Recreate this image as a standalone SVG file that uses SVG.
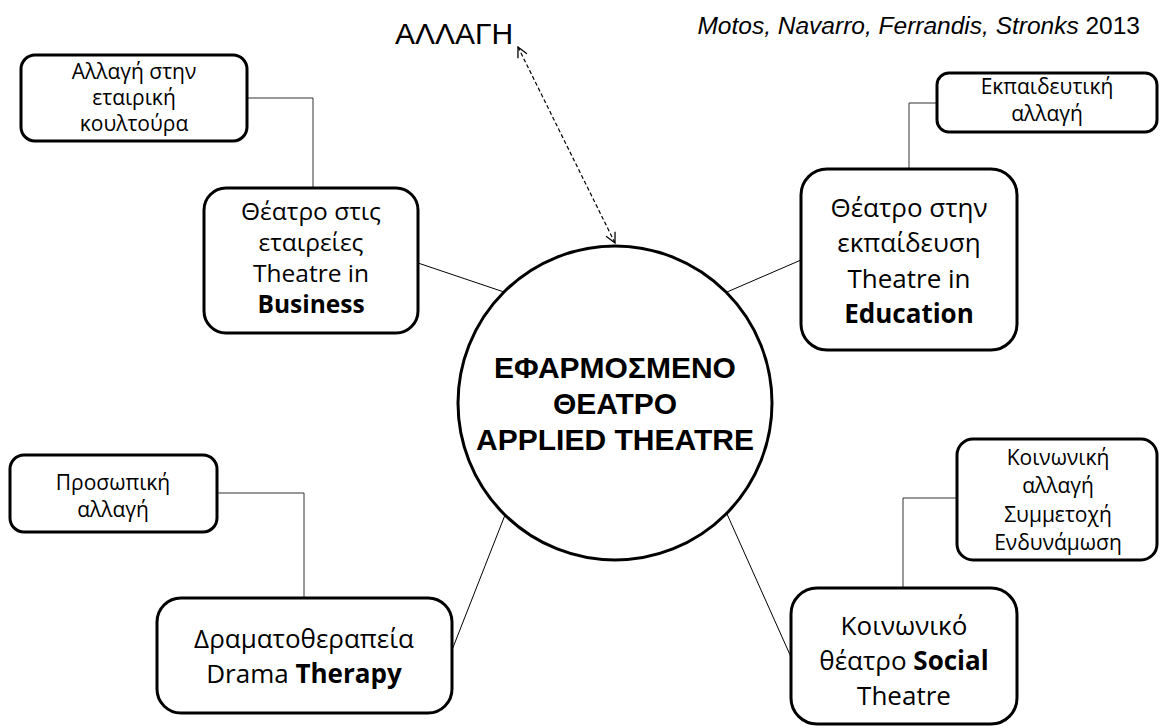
<svg xmlns="http://www.w3.org/2000/svg" width="1160" height="728" viewBox="0 0 1160 728">
<defs>
<style>
.box{fill:#fff;stroke:#000;stroke-width:3}
.t{font-family:"Open Sans","Noto Sans",sans-serif;fill:#000;text-anchor:middle}
.big{font-size:26px}
.mid{font-size:24.5px}
.sm{font-size:21px}
.b{font-weight:bold}
.ctr{font-family:"Liberation Sans",Arial,sans-serif;font-size:30px;font-weight:bold;text-anchor:middle}
.conn{fill:none;stroke:#333;stroke-width:1}
.spoke{fill:none;stroke:#000;stroke-width:1}
</style>
<marker id="ah" viewBox="0 0 12 12" refX="11" refY="6" markerWidth="12" markerHeight="12" markerUnits="userSpaceOnUse" orient="auto-start-reverse">
<path d="M1,1 L11,6 L1,11" fill="none" stroke="#000" stroke-width="1.3"/>
</marker>
</defs>
<rect width="1160" height="728" fill="#fff"/>

<g id="connectors">
<polyline class="conn" points="247,98 313,98 313,188"/>
<polyline class="conn" points="937,103 909,103 909,169"/>
<polyline class="conn" points="217,493 304,493 304,598"/>
<polyline class="conn" points="957,498 903,498 903,588"/>
<line class="spoke" x1="418" y1="263" x2="504" y2="292"/>
<line class="spoke" x1="801" y1="260" x2="727" y2="292"/>
<line class="spoke" x1="452" y1="650" x2="505" y2="515"/>
<line class="spoke" x1="791" y1="657" x2="727" y2="514"/>
<line x1="518" y1="47" x2="615" y2="243" stroke="#000" stroke-width="1.2" stroke-dasharray="4,2.5" marker-start="url(#ah)" marker-end="url(#ah)"/>
</g>

<g id="title">
<text x="395" y="44" font-family="Liberation Sans,Arial,sans-serif" font-size="30">ΑΛΛΑΓΗ</text>
<text x="1140" y="34" font-family="Liberation Sans,Arial,sans-serif" font-size="24.5" text-anchor="end"><tspan font-style="italic">Motos, Navarro, Ferrandis, Stronks</tspan> 2013</text>
</g>

<g id="center">
<circle cx="615" cy="403" r="157" fill="#fff" stroke="#000" stroke-width="3"/>
<text class="ctr" x="615" y="378">ΕΦΑΡΜΟΣΜΕΝΟ</text>
<text class="ctr" x="615" y="414">ΘΕΑΤΡΟ</text>
<text class="ctr" x="615" y="450">APPLIED THEATRE</text>
</g>

<g id="business">
<rect class="box" x="204" y="188" width="214" height="145" rx="22"/>
<text class="t mid" x="311" y="220">Θέατρο στις</text>
<text class="t mid" x="311" y="251">εταιρείες</text>
<text class="t mid" x="311" y="282">Theatre in</text>
<text class="t mid b" x="311" y="313">Business</text>
</g>

<g id="business-change">
<rect class="box" x="21" y="55" width="226" height="86" rx="14"/>
<text class="t sm" x="134" y="79">Αλλαγή στην</text>
<text class="t sm" x="134" y="105">εταιρική</text>
<text class="t sm" x="134" y="131">κουλτούρα</text>
</g>

<g id="education">
<rect class="box" x="801" y="169" width="216" height="181" rx="26"/>
<text class="t big" x="909" y="217">Θέατρο στην</text>
<text class="t big" x="909" y="252">εκπαίδευση</text>
<text class="t big" x="909" y="288">Theatre in</text>
<text class="t big b" x="909" y="323">Education</text>
</g>

<g id="education-change">
<rect class="box" x="937" y="73" width="220" height="59" rx="12"/>
<text class="t sm" x="1047" y="94">Εκπαιδευτική</text>
<text class="t sm" x="1047" y="121">αλλαγή</text>
</g>

<g id="drama">
<rect class="box" x="157" y="598" width="295" height="115" rx="24"/>
<text class="t big" x="304" y="648">Δραματοθεραπεία</text>
<text class="t big" x="304" y="683">Drama <tspan class="b">Therapy</tspan></text>
</g>

<g id="drama-change">
<rect class="box" x="10" y="455" width="207" height="77" rx="14"/>
<text class="t sm" x="113" y="490">Προσωπική</text>
<text class="t sm" x="113" y="517">αλλαγή</text>
</g>

<g id="social">
<rect class="box" x="791" y="588" width="226" height="136" rx="26"/>
<text class="t big" x="904" y="635">Κοινωνικό</text>
<text class="t big" x="904" y="670">θέατρο <tspan class="b">Social</tspan></text>
<text class="t big" x="904" y="705">Theatre</text>
</g>

<g id="social-change">
<rect class="box" x="957" y="439" width="200" height="121" rx="16"/>
<text class="t sm" x="1058" y="465">Κοινωνική</text>
<text class="t sm" x="1058" y="493">αλλαγή</text>
<text class="t sm" x="1058" y="522">Συμμετοχή</text>
<text class="t sm" x="1058" y="550">Ενδυνάμωση</text>
</g>
</svg>
